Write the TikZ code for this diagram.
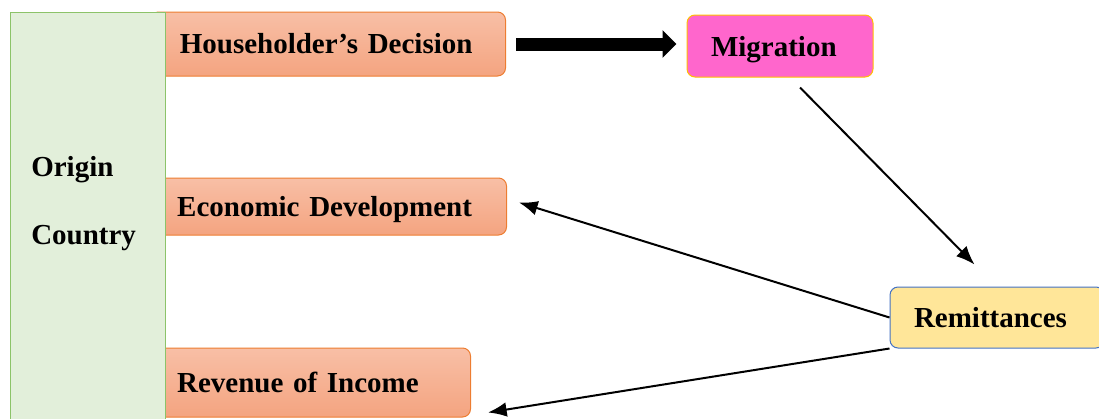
\documentclass[tikz,border=0pt]{standalone}
\usepackage{fontspec}
\setmainfont{Liberation Serif}
\usetikzlibrary{arrows.meta, calc}

\definecolor{origfill}{RGB}{226,239,218}
\definecolor{origline}{RGB}{140,195,105}
\definecolor{factline}{RGB}{237,125,49}
\definecolor{facttop}{RGB}{248,191,166}
\definecolor{factbot}{RGB}{244,164,128}
\definecolor{migfill}{RGB}{255,102,204}
\definecolor{migline}{RGB}{255,192,0}
\definecolor{remfill}{RGB}{255,230,153}
\definecolor{remline}{RGB}{68,114,196}

\tikzset{
  factor/.style={draw=factline, line width=0.75pt, top color=facttop, bottom color=factbot,
    rounded corners=6pt, anchor=west, align=left, inner xsep=20pt},
  migbox/.style={draw=migline, line width=0.75pt, fill=migfill, rounded corners=6pt,
    align=left, inner xsep=18pt, text width=103.5pt, minimum height=46.5pt, text depth=0pt},
  rembox/.style={draw=remline, line width=0.75pt, fill=remfill, rounded corners=6pt,
    align=left, inner xsep=18pt, text width=124.5pt, minimum height=45.75pt},
  flow/.style={line width=1.5pt, -{Latex[length=14pt, width=11pt]}},
  bigflow/.style={line width=9.75pt, -{Triangle[length=10.5pt, width=20.25pt]}}
}

\begin{document}
\begin{tikzpicture}[x=0.75pt, y=-0.75pt, font=\bfseries\fontsize{21.75pt}{26pt}\selectfont]
\useasboundingbox (0,0) rectangle (1099,418);

\node[factor, text width=222.25pt, minimum height=48pt, inner xsep=22pt] (house) at (150,44) {Householder's Decision};
\node[factor, text width=227pt, minimum height=42.75pt, text depth=0pt] (econ) at (150,206.5) {Economic Development};
\node[factor, text width=200pt, minimum height=51.75pt] (rev) at (150,382.5) {Revenue of Income};

% origin country column
\filldraw[fill=origfill, draw=origline, line width=0.75pt] (10,12) rectangle (165,440);
\node[anchor=west, align=left, inner sep=0pt, font=\bfseries\fontsize{21.75pt}{51pt}\selectfont]
  (origin) at (31,204) {Origin\\Country};

\node[migbox] (migr) at (780,46) {Migration};
\node[rembox] (remit) at (997,317.5) {Remittances};

\draw[bigflow, shorten <=7.5pt, shorten >=7.5pt] (house.east) -- (house.east -| migr.west);
\draw[flow] ($(migr.south)+(20,10)$) -- ($(remit.north west)+(85,-22)$);
\draw[flow] (remit.west) -- ($(econ.east)+(12,-4)$);
\draw[flow] (remit.south west) -- ($(rev.south east)+(17,-5)$);

\end{tikzpicture}
\end{document}
